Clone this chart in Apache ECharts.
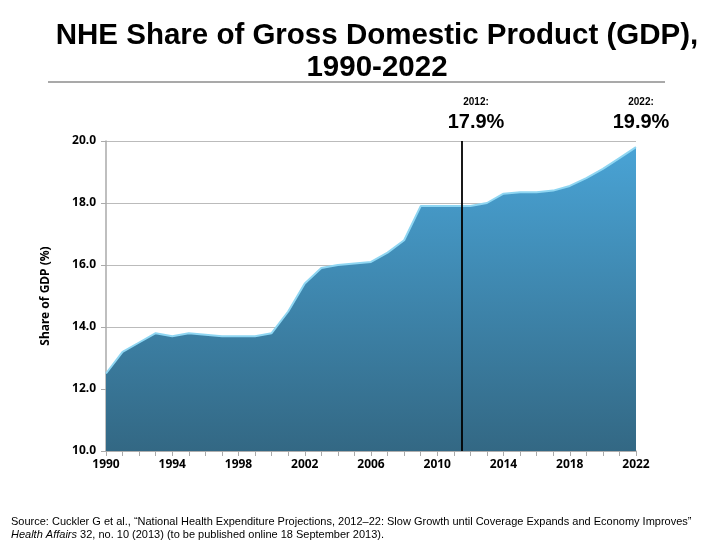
<!DOCTYPE html>
<html><head><meta charset="utf-8">
<script src="https://cdn.jsdelivr.net/npm/echarts@6/dist/echarts.min.js"></script>
<style>html,body{margin:0;padding:0;background:#fff}#c{width:720px;height:540px}</style>
</head><body><div id="c"></div>
<script>
const years = [1990,1991,1992,1993,1994,1995,1996,1997,1998,1999,2000,2001,2002,2003,2004,2005,2006,2007,2008,2009,2010,2011,2012,2013,2014,2015,2016,2017,2018,2019,2020,2021,2022];
const gdpShare = [12.5,13.2,13.5,13.8,13.7,13.8,13.75,13.7,13.7,13.7,13.8,14.5,15.4,15.9,16.0,16.05,16.1,16.4,16.8,17.9,17.9,17.9,17.9,18.0,18.3,18.35,18.35,18.4,18.55,18.8,19.1,19.45,19.8];
const yTicks = {min:10, max:20, interval:2};
const xTicks = {min:1990, max:2022, interval:4};
const projectionLineX = 2011.45;
const annotations = [{label:'2012:', value:'17.9%'},{label:'2022:', value:'19.9%'}];

const chart = echarts.init(document.getElementById('c'));
const lbl = {fontFamily:'Noto Sans', fontWeight:'bold', fontSize:12, color:'#000'};
chart.setOption({
  animation:false,
  title:[
    {text:'NHE Share of Gross Domestic Product (GDP),\n1990-2022', left:372, textAlign:'center', top:15,
     textStyle:{fontFamily:'Liberation Sans', fontWeight:'bold', fontSize:29.5, lineHeight:32, color:'#000'}},
    {text:'{n|Source: Cuckler G et al., \u201cNational Health Expenditure Projections, 2012\u201322: Slow Growth until Coverage Expands and Economy Improves\u201d}\n{i|Health Affairs}{n| 32, no. 10 (2013) (to be published online 18 September 2013).}',
     left:6, top:510,
     textStyle:{fontWeight:'normal', rich:{n:{fontFamily:'Liberation Sans', fontWeight:'normal', fontSize:11, color:'#000', lineHeight:13},
                      i:{fontFamily:'Liberation Sans', fontWeight:'normal', fontSize:11, fontStyle:'italic', color:'#000', lineHeight:13}}}}
  ],
  graphic:[
    {type:'line', shape:{x1:48,y1:82,x2:665,y2:82}, style:{stroke:'#555', lineWidth:1.2}},
    {type:'text', style:{text:annotations[0].label, x:476, y:102, textAlign:'center', textVerticalAlign:'middle', font:'bold 10px "Liberation Sans"', fill:'#000'}},
    {type:'text', style:{text:annotations[0].value, x:476, y:122, textAlign:'center', textVerticalAlign:'middle', font:'bold 20px "Liberation Sans"', fill:'#000'}},
    {type:'text', style:{text:annotations[1].label, x:641, y:102, textAlign:'center', textVerticalAlign:'middle', font:'bold 10px "Liberation Sans"', fill:'#000'}},
    {type:'text', style:{text:annotations[1].value, x:641, y:122, textAlign:'center', textVerticalAlign:'middle', font:'bold 20px "Liberation Sans"', fill:'#000'}}
  ],
  grid:{left:106, right:84, top:141, bottom:89},
  xAxis:{type:'value', min:xTicks.min, max:xTicks.max, interval:xTicks.interval,
    axisLine:{show:true, onZero:false, lineStyle:{color:'#aaa', width:1.5}},
    axisTick:{show:true, length:5, lineStyle:{color:'#aaa'}},
    minorTick:{show:true, splitNumber:4, length:5, lineStyle:{color:'#aaa'}},
    splitLine:{show:false},
    axisLabel:Object.assign({margin:8, formatter:v=>String(v)}, lbl)},
  yAxis:{type:'value', min:yTicks.min, max:yTicks.max, interval:yTicks.interval,
    name:'Share of GDP (%)', nameLocation:'middle', nameGap:54, nameRotate:90,
    nameTextStyle:{fontFamily:'Noto Sans', fontWeight:'bold', fontSize:12, color:'#000'},
    axisLine:{show:true, lineStyle:{color:'#aaa', width:1.5}},
    axisTick:{show:true, length:5, lineStyle:{color:'#aaa'}},
    splitLine:{show:true, lineStyle:{color:'#bbb', width:1}},
    axisLabel:Object.assign({margin:10, formatter:v=>v.toFixed(1)}, lbl)},
  series:[{
    type:'line', data:years.map((y,i)=>[y,gdpShare[i]]), symbol:'none',
    lineStyle:{color:'#8fd6f2', width:2},
    areaStyle:{opacity:1, color:new echarts.graphic.LinearGradient(0,0,0,1,[
      {offset:0, color:'#49a3d5'},{offset:1, color:'#336884'}])},
    markLine:{silent:true, symbol:'none', label:{show:false},
      lineStyle:{color:'#000', width:1.8, type:'solid'},
      data:[{xAxis:projectionLineX}]}
  }]
});
</script></body></html>
